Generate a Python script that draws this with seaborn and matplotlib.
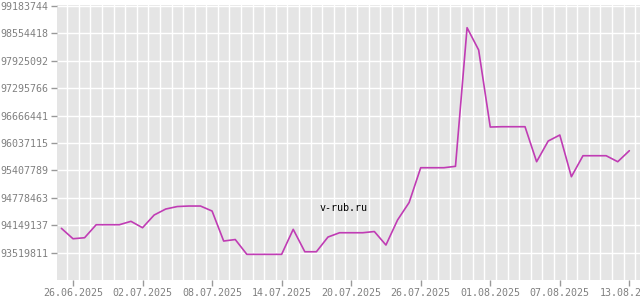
import matplotlib
matplotlib.use("Agg")
import matplotlib.pyplot as plt
import matplotlib.dates as mdates
import seaborn as sns
import pandas as pd

# ---- data ----
start_date = "2025-06-25"
end_date = "2025-08-13"
values = [
    94079958, 93841185, 93864144, 94162611, 94162611, 94162611, 94240671,
    94093734, 94385313, 94523067, 94580464, 94591944, 94591944, 94477149,
    93788379, 93822817, 93483024, 93483024, 93483024, 93483024, 94056999,
    93542718, 93542718, 93880215, 93978939, 93978939, 93978939, 94006489,
    93696543, 94270518, 94672300, 95471274, 95471274, 95471274, 95503416,
    98685534, 98173548, 96405705, 96412593, 96412593, 96412593, 95609028,
    96084279, 96222033, 95264643, 95746782, 95746782, 95746782, 95609028,
    95861577,
]
y_ticks = [93519811, 94149137, 94778463, 95407789, 96037115, 96666441,
           97295766, 97925092, 98554418, 99183744]
x_tick_labels = ["26.06.2025", "02.07.2025", "08.07.2025", "14.07.2025",
                 "20.07.2025", "26.07.2025", "01.08.2025", "07.08.2025",
                 "13.08.2025"]
watermark = "v-rub.ru"

dates = pd.date_range(start_date, end_date, freq="D")
df = pd.DataFrame({"date": dates, "value": values})

# ---- figure ----
sns.set_style("white")
plt.rcParams["font.family"] = ["DejaVu Sans Mono", "DejaVu Sans"]

fig = plt.figure(figsize=(6.4, 3.0), dpi=100)
ax = fig.add_axes([57 / 640, 1 - 280 / 300, 1 - 57 / 640, (280 - 5.3) / 300])
ax.set_facecolor("#E5E5E5")

sns.lineplot(data=df, x="date", y="value", ax=ax, color="#C03CB4",
             linewidth=1.2, zorder=3)

d0 = mdates.date2num(dates[0])
d1 = mdates.date2num(dates[-1])

# x ticks
tick_dates = pd.to_datetime(x_tick_labels, format="%d.%m.%Y")
ax.set_xticks(mdates.date2num(tick_dates))
ax.set_xticklabels(x_tick_labels)
# minor vertical gridlines at half-day offsets
minor = mdates.date2num(pd.date_range("2025-06-24", "2025-08-14", freq="D")) + 0.5
ax.set_xticks(minor, minor=True)
ax.grid(False)
ax.xaxis.grid(True, which="minor", color="white", linewidth=1.0)
ax.yaxis.grid(True, which="major", color="white", linewidth=1.0)
ax.set_axisbelow(True)

ax.set_yticks(y_ticks)
ax.set_yticklabels([str(v) for v in y_ticks])

# limits last (set_ticks may expand the view)
ax.set_xlim(d0 - 0.38, d1 + 0.92)
ax.set_ylim(92893978, 99199815)

ax.tick_params(axis="both", which="major", length=4, width=1.0,
               color="#999999", labelcolor="#808080", labelsize=7.2, pad=2,
               direction="out", bottom=True, left=True)
ax.tick_params(axis="x", which="minor", length=0)

for s in ax.spines.values():
    s.set_visible(False)

ax.set_xlabel("")
ax.set_ylabel("")

fig.text(343.7 / 640, 1 - 207.7 / 300, watermark, ha="center", va="center",
         fontsize=7.2, color="black", family="DejaVu Sans Mono")

fig.savefig("out.png", dpi=100)
